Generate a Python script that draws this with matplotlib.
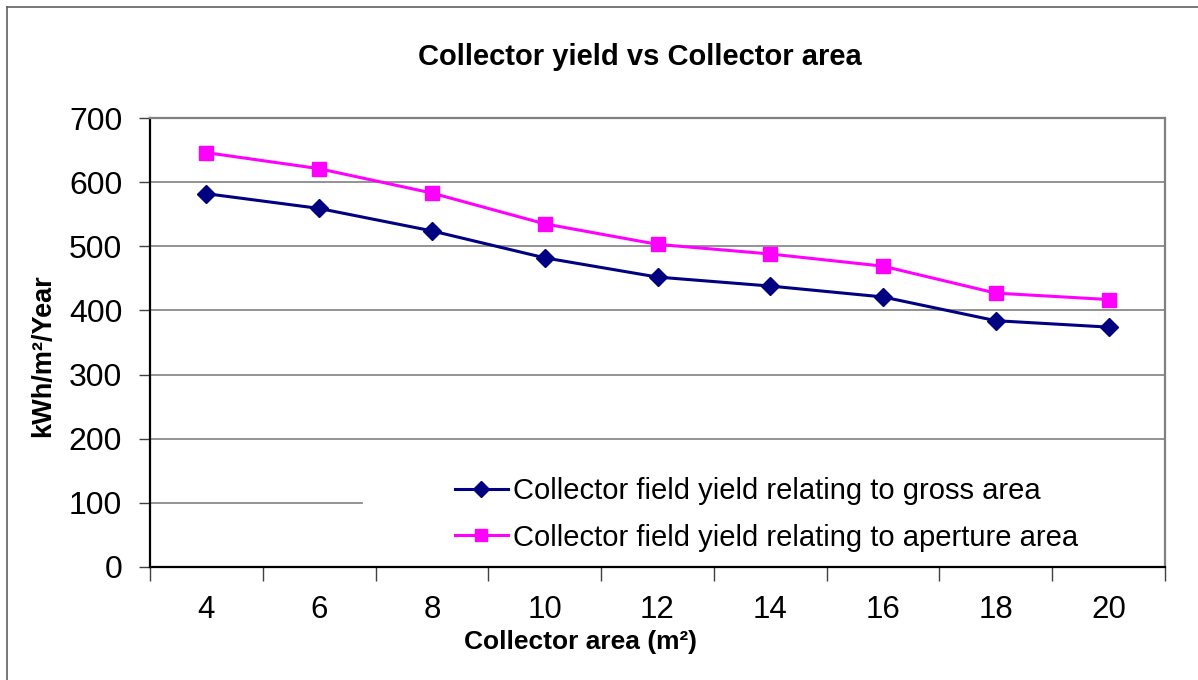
import matplotlib
matplotlib.use("Agg")
import matplotlib.pyplot as plt
from matplotlib.lines import Line2D

areas = ["4", "6", "8", "10", "12", "14", "16", "18", "20"]
gross_yield = [582, 559, 524, 482, 452, 438, 421, 384, 374]
aperture_yield = [646, 621, 583, 535, 503, 488, 469, 427, 417]
yticks = [0, 100, 200, 300, 400, 500, 600, 700]

plt.rcParams['font.family'] = ['Liberation Sans', 'DejaVu Sans']

W, H = 1198, 680
fig = plt.figure(figsize=(W / 100, H / 100), dpi=100)
L, R, T, B = 150, 1165, 118, 567
ax = fig.add_axes([L / W, (H - B) / H, (R - L) / W, (B - T) / H])

x = list(range(len(areas)))
ax.set_xlim(-0.5, len(areas) - 0.5)
ax.set_ylim(0, 700)

for v in yticks[1:]:
    if v == 100:
        ax.plot([-0.5, -0.5 + (362 - L) / (R - L) * len(areas)], [v, v], color="#808080", lw=1.2, zorder=1)
    else:
        ax.axhline(v, color="#808080", lw=1.2, zorder=1)

ax.plot(x, gross_yield, color="#000080", lw=2.2, marker="D", ms=9.5, zorder=4,
        label="Collector field yield relating to gross area")
ax.plot(x, aperture_yield, color="#FF00FF", lw=2.2, marker="s", ms=10.5, zorder=4,
        label="Collector field yield relating to aperture area")

ax.set_yticks(yticks)
ax.set_yticklabels([str(v) for v in yticks], fontsize=23)
ax.set_xticks(x)
ax.set_xticklabels(areas, fontsize=22.5)
ax.tick_params(axis="x", length=0, pad=20)
ax.set_xticks([i - 0.5 for i in range(len(areas) + 1)], minor=True)
ax.tick_params(axis="x", which="minor", length=10, width=1, color="#404040", direction="out")
ax.tick_params(axis="y", length=8, width=1, color="#404040", direction="out", pad=12)

for s in ["left", "bottom"]:
    ax.spines[s].set_color("black")
    ax.spines[s].set_linewidth(1.6)
for s in ["top", "right"]:
    ax.spines[s].set_color("#808080")
    ax.spines[s].set_linewidth(1.6)

title = ax.set_title("Collector yield vs Collector area", fontsize=21, fontweight="bold", pad=38)
title.set_x((640 - L) / (R - L))
ax.set_xlabel("Collector area (m²)", fontsize=19, fontweight="bold")
ax.xaxis.set_label_coords((580 - L) / (R - L), -(642 - B) / (B - T))
ax.xaxis.label.set_va("center")
ax.set_ylabel("kWh/m²/Year", fontsize=19.5, fontweight="bold")
ax.yaxis.set_label_coords(-(L - 43) / (R - L), (B - 356) / (B - T))
ax.yaxis.label.set_va("center")

leg = ax.legend(loc="upper left", bbox_to_anchor=((455 - L) / (R - L), (B - 477) / (B - T)),
                frameon=False, prop={"size": 21},
                handlelength=1.8, handletextpad=0.2, labelspacing=0.64, borderpad=0,
                borderaxespad=0, markerscale=0.85)
leg.set_zorder(6)

# outer chart frame (top and left visible)
fig.add_artist(Line2D([7 / W, 7 / W], [0, 1 - 7 / H], color="#606060", lw=1.2))
fig.add_artist(Line2D([7 / W, 1], [1 - 7 / H, 1 - 7 / H], color="#606060", lw=1.2))

fig.savefig("out.png", dpi=100)
